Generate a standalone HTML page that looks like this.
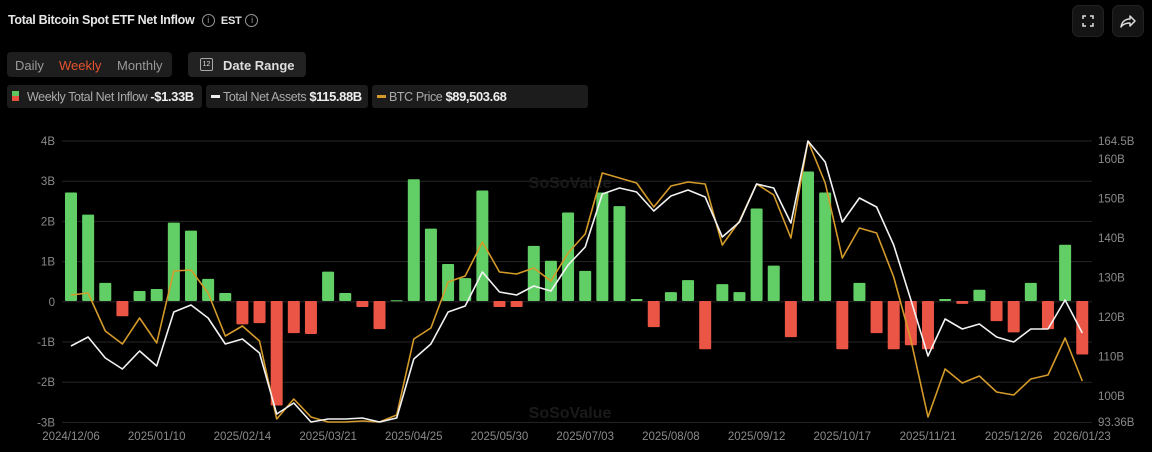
<!DOCTYPE html>
<html><head><meta charset="utf-8"><style>
body{margin:0;background:#000;width:1152px;height:452px;overflow:hidden;font-family:"Liberation Sans",sans-serif;color:#ddd;position:relative}
.t{position:absolute;left:8px;top:13px;font-size:12.5px;font-weight:bold;color:#e6e6e6;letter-spacing:-0.3px}
.ic{display:inline-block;width:11px;height:11px;border:1px solid #999;border-radius:50%;font-size:9px;line-height:11px;text-align:center;color:#999;vertical-align:1px;font-weight:normal;margin-left:4px}
.seg{position:absolute;left:7px;top:52px;width:165px;height:25px;background:#1e1e1e;border-radius:4px;font-size:13px;color:#999}
.seg span{position:absolute;top:6px}
.dr{position:absolute;left:188px;top:52px;width:118px;height:25px;background:#222;border-radius:4px;font-size:13px;color:#ddd;font-weight:bold}
.chip{position:absolute;top:85px;height:23px;background:#1c1c1c;border-radius:3px;font-size:12.5px;letter-spacing:-0.4px;color:#aaa;line-height:23px;white-space:nowrap;overflow:hidden}
.chip b{color:#eee;font-size:13px}
.btn{position:absolute;top:5px;width:30px;height:30px;background:#141414;border-radius:7px;border:1px solid #222}
</style></head><body>
<div class="t">Total Bitcoin Spot ETF Net Inflow <span class="ic">i</span>&nbsp; <span style="font-size:11px">EST</span><span class="ic">i</span></div>
<div class="seg"><span style="left:8px">Daily</span><span style="left:52px;color:#e5532f">Weekly</span><span style="left:110px">Monthly</span></div>
<div class="dr"><span style="position:absolute;left:12px;top:6px;width:11px;height:11px;border:1px solid #aaa;border-radius:2px;font-size:7px;line-height:12px;text-align:center;font-weight:normal">12</span><span style="position:absolute;left:35px;top:6px">Date Range</span></div>
<div class="chip" style="left:7px;width:195px"><span style="position:absolute;left:5px;top:6px;width:7px;height:5px;background:#5cc65f"></span><span style="position:absolute;left:5px;top:11px;width:7px;height:5px;background:#e5533f"></span><span style="margin-left:20px">Weekly Total Net Inflow <b>-$1.33B</b></span></div>
<div class="chip" style="left:206px;width:162px"><span style="position:absolute;left:5px;top:10px;width:9px;height:3px;background:#eee"></span><span style="margin-left:17px">Total Net Assets <b>$115.88B</b></span></div>
<div class="chip" style="left:372px;width:216px"><span style="position:absolute;left:5px;top:10px;width:9px;height:3px;background:#d49a2a"></span><span style="margin-left:17px">BTC Price <b>$89,503.68</b></span></div>
<div class="btn" style="left:1072px"><svg width="30" height="30"><path d="M10 13V10H13M17 10H20V13M20 17V20H17M13 20H10V17" stroke="#ddd" stroke-width="1.5" fill="none"/></svg></div>
<div class="btn" style="left:1112px"><svg width="30" height="30"><path d="M8 21C9 15 13 13 17 13V10L22 15L17 20V17C13 17 10 18 8 21Z" fill="none" stroke="#ddd" stroke-width="1.5" stroke-linejoin="round"/></svg></div>
<svg id="c" width="1152" height="452" style="position:absolute;left:0;top:0"></svg>
<script>
var bars=[2.7,2.15,0.45,-0.38,0.25,0.3,1.95,1.75,0.55,0.2,-0.58,-0.55,-2.6,-0.8,-0.82,0.73,0.2,-0.15,-0.7,0.02,3.03,1.8,0.92,0.57,2.75,-0.15,-0.15,1.37,1.0,2.2,0.75,2.7,2.36,0.05,-0.65,0.22,0.52,-1.2,0.42,0.22,2.3,0.88,-0.9,3.22,2.7,-1.2,0.45,-0.8,-1.2,-1.1,-1.2,0.05,-0.07,0.28,-0.5,-0.78,0.45,-0.7,1.4,-1.33];
var wy=[346,337,358,369,351,366,312,305,318,344,339,353,414,403,422,419,419,418,422,418,359,344,312,306,272,292,295,286,291,265,247,194,188,192,211,196,190,197,237,222,184,188,223,141,162,222,198,207,245,300,356,319,329,324,337,342,329,329,300,333];
var gy=[295,293,331,344,318,343,271,270,293,336,326,341,419,399,417,422,422,421,422,415,339,328,282,276,242,272,274,268,281,253,234,173,178,183,207,186,182,184,245,221,184,195,238,141,183,258,228,233,277,340,417,369,383,376,392,395,379,375,338,381];
var s='',X=function(i){return 71+i*17.14},Z=301,K=40.2;
var ll=['4B','3B','2B','1B','0','-1B','-2B','-3B'];
for(var k=0;k<8;k++){var y=141+k*40.2;s+='<line x1="62" x2="1092" y1="'+y+'" y2="'+y+'" stroke="#262626"/><text x="55" y="'+(y+4)+'" text-anchor="end" fill="#8a8a8a" font-size="11.5">'+ll[k]+'</text>';}
var rl=[[164.5,'164.5B'],[160,'160B'],[150,'150B'],[140,'140B'],[130,'130B'],[120,'120B'],[110,'110B'],[100,'100B'],[93.36,'93.36B']];
rl.forEach(function(r){var y=141+(164.5-r[0])*3.95;s+='<text x="1098" y="'+(y+4)+'" fill="#8a8a8a" font-size="11.5">'+r[1]+'</text>'});
s+='<text x="570" y="188" text-anchor="middle" fill="#1a1a1a" font-size="16" font-weight="bold">SoSoValue</text><text x="570" y="418" text-anchor="middle" fill="#1a1a1a" font-size="16" font-weight="bold">SoSoValue</text>';
bars.forEach(function(v,i){var h=Math.abs(v)*K,y=v>0?Z-h:Z;s+='<rect x="'+(X(i)-6)+'" y="'+y+'" width="12" height="'+Math.max(h,1)+'" rx="1" fill="'+(v>0?'#62cf66':'#ea5545')+'"/>'});
function pl(a,c){return '<polyline fill="none" stroke="'+c+'" stroke-width="1.6" stroke-linejoin="round" points="'+a.map(function(y,i){return X(i).toFixed(1)+','+y}).join(' ')+'"/>'}
s+=pl(gy,'#d49a2a')+pl(wy,'#f2f2f2');
['2024/12/06','2025/01/10','2025/02/14','2025/03/21','2025/04/25','2025/05/30','2025/07/03','2025/08/08','2025/09/12','2025/10/17','2025/11/21','2025/12/26'].forEach(function(t,j){s+='<text x="'+X(j*5)+'" y="440" text-anchor="middle" fill="#8a8a8a" font-size="11.5">'+t+'</text>'});
s+='<text x="1082" y="440" text-anchor="middle" fill="#8a8a8a" font-size="11.5">2026/01/23</text>';
document.getElementById('c').innerHTML=s;
</script>
</body></html>
